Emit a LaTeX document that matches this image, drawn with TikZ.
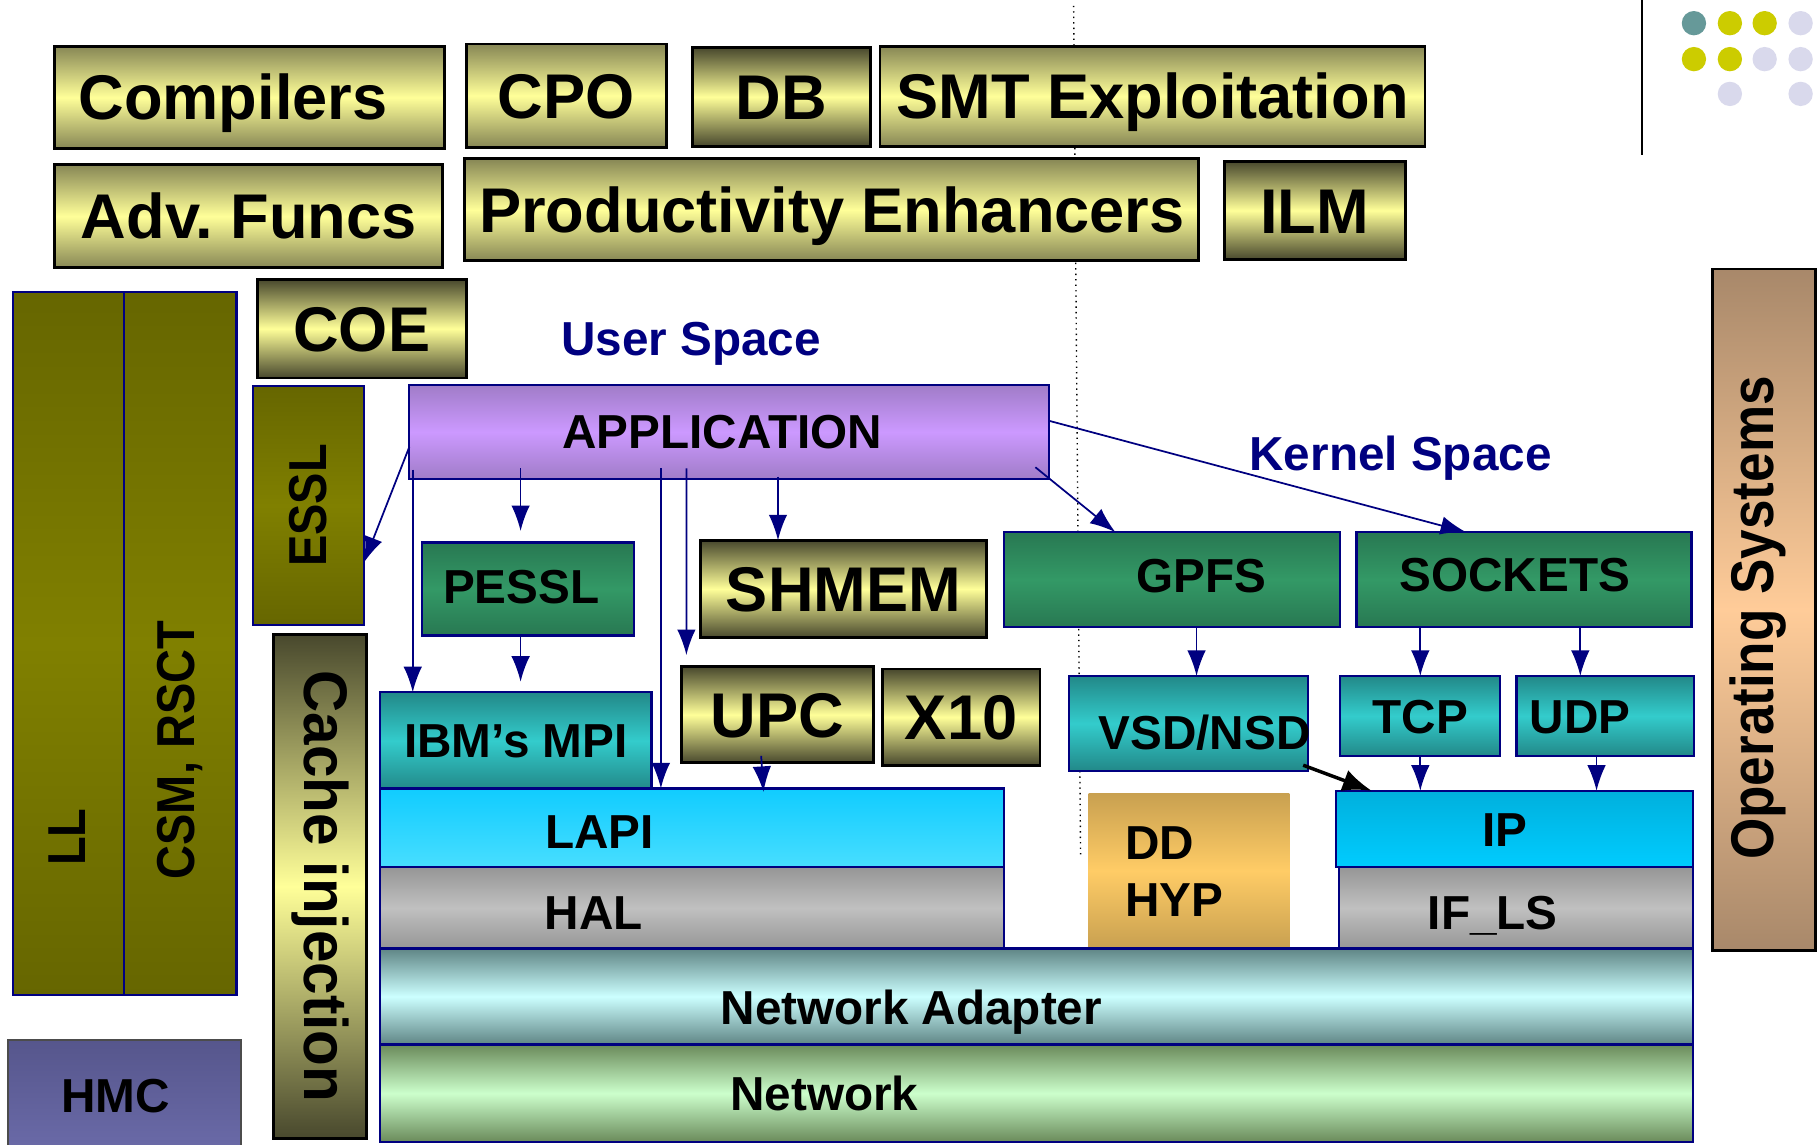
\documentclass[tikz,border=0pt]{standalone}
\usepackage{fontspec}
\setmainfont{Liberation Sans}
\usepackage{graphicx}
\usetikzlibrary{arrows.meta}

\definecolor{navy}{RGB}{0,0,128}
\definecolor{khakiL}{RGB}{255,255,153}
\definecolor{khakiM}{RGB}{135,135,85}
\definecolor{khakiD}{RGB}{72,72,45}
\definecolor{oliveD}{RGB}{102,102,0}
\definecolor{oliveM}{RGB}{128,128,0}
\definecolor{greenD}{RGB}{40,120,82}
\definecolor{greenM}{RGB}{51,153,102}
\definecolor{tealD}{RGB}{34,136,136}
\definecolor{tealM}{RGB}{51,204,204}
\definecolor{appD}{RGB}{160,124,200}
\definecolor{appM}{RGB}{204,153,255}
\definecolor{lapiT}{RGB}{16,204,255}
\definecolor{lapiB}{RGB}{72,222,255}
\definecolor{ipT}{RGB}{0,176,221}
\definecolor{ipB}{RGB}{0,204,255}
\definecolor{halD}{RGB}{150,150,150}
\definecolor{halM}{RGB}{192,192,192}
\definecolor{ddD}{RGB}{200,160,80}
\definecolor{ddM}{RGB}{255,204,102}
\definecolor{nadD}{RGB}{95,133,133}
\definecolor{nadM}{RGB}{204,255,255}
\definecolor{netD}{RGB}{106,138,90}
\definecolor{netM}{RGB}{204,255,204}
\definecolor{hmcT}{RGB}{86,86,140}
\definecolor{hmcB}{RGB}{106,106,168}
\definecolor{osD}{RGB}{168,136,106}
\definecolor{osM}{RGB}{255,204,153}
\definecolor{dotteal}{RGB}{102,153,153}
\definecolor{dotyel}{RGB}{204,204,0}
\definecolor{dotlav}{RGB}{217,217,236}

\newcommand\bigtxt{\fontsize{15.5}{18}\selectfont\bfseries}
\newcommand\midtxt{\fontsize{11.7}{14}\selectfont\bfseries}
\newcommand\sidetxt{\fontsize{13.1}{15}\selectfont\bfseries}
\newcommand\cachetxt{\fontsize{15.1}{17}\selectfont\bfseries}
\newcommand\ostxt{\fontsize{14.8}{17}\selectfont\bfseries}
\newcommand\vtxt[3]{\rotatebox{#1}{\scalebox{#2}[1]{#3}}}

\begin{document}
\begin{tikzpicture}[x=0.1mm, y=-0.1mm,
    box/.style = {inner sep=0pt, outer sep=0pt, font=\midtxt, text height=8.4pt, text depth=0pt},
    rot/.style = {text height={}, text depth={}},
    khaki/.style = {box, draw=black, line width=0.25mm, top color=khakiM, bottom color=khakiM, middle color=khakiL, font=\bigtxt, text height=11.1pt},
    khakidark/.style = {khaki, top color=khakiD, bottom color=khakiD, middle color=khakiL},
    olivebox/.style = {box, draw=navy, line width=0.2mm, top color=oliveD, bottom color=oliveD, middle color=oliveM},
    greenbox/.style = {box, draw=navy, line width=0.2mm, top color=greenD, bottom color=greenD, middle color=greenM},
    tealbox/.style = {box, draw=navy, line width=0.2mm, top color=tealD, bottom color=tealD, middle color=tealM},
    appbox/.style = {box, draw=navy, line width=0.2mm, top color=appD, bottom color=appD, middle color=appM},
    lapibox/.style = {box, draw=navy, line width=0.2mm, top color=lapiT, bottom color=lapiB},
    ipbox/.style = {box, draw=navy, line width=0.2mm, top color=ipT, bottom color=ipB},
    graybox/.style = {box, draw=navy, line width=0.2mm, top color=halD, bottom color=halD, middle color=halM},
    ddbox/.style = {box, top color=ddD, bottom color=ddD, middle color=ddM},
    nadbox/.style = {box, draw=navy, line width=0.2mm, top color=nadD, bottom color=nadD, middle color=nadM},
    netbox/.style = {box, draw=navy, line width=0.2mm, top color=netD, bottom color=netD, middle color=netM},
    hmcbox/.style = {box, draw=black!70, line width=0.2mm, top color=hmcT, bottom color=hmcB},
    osbox/.style = {box, draw=black, line width=0.25mm, top color=osD, bottom color=osD, middle color=osM},
    lbl/.style = {inner sep=0pt, font=\midtxt, text height=8.4pt, text depth=0pt},
    biglbl/.style = {lbl, font=\bigtxt, text height=11.1pt},
    vlbl/.style = {inner sep=0pt, font=\sidetxt},
    arr/.style = {-{Latex[length=2.2mm,width=1.6mm]}, draw=navy, line width=0.15mm}]

\useasboundingbox (0,0) rectangle (1568,987);

% page marks
\draw[densely dotted, line width=0.12mm] (926,5) -- (932,740);
\draw[line width=0.2mm] (1416,0) -- (1416,134);
\foreach \cx/\cy/\cc in {1461/-11/dotteal, 1492/-11/dotteal, 1522/-11/dotyel, 1553/-11/dotyel,
                         1461/20/dotteal, 1492/20/dotyel, 1522/20/dotyel, 1553/20/dotlav,
                         1461/51/dotyel, 1492/51/dotyel, 1522/51/dotlav, 1553/51/dotlav,
                         1492/81/dotlav, 1553/81/dotlav}
    \fill[\cc] (\cx,\cy) circle (1.05mm);

% tools
\node[khaki, minimum width=33.6mm, minimum height=8.8mm] (compilers) at (215,84) {};
\node[biglbl] (compilers-l) at ([xshift=-1.4mm]compilers.center) {Compilers};
\node[khaki, minimum width=17.3mm, minimum height=8.9mm] (cpo) at (488.5,82.5) {CPO};
\node[khakidark, minimum width=15.4mm, minimum height=8.5mm] (db) at (674,83.5) {DB};
\node[khaki, minimum width=47mm, minimum height=8.6mm] (smt) at (994,83) {SMT Exploitation};
\node[khaki, minimum width=33.5mm, minimum height=8.9mm] (adv) at (214.5,186.5) {Adv.\ Funcs};
\node[khaki, minimum width=63.3mm, minimum height=8.8mm] (prod) at (717.5,181) {Productivity Enhancers};
\node[khakidark, minimum width=15.6mm, minimum height=8.5mm] (ilm) at (1134,181.5) {ILM};
\node[khakidark, minimum width=18mm, minimum height=8.5mm] (coe) at (312,283.5) {COE};

% side columns
\node[olivebox, minimum width=9.6mm, minimum height=60.6mm] (ll) at (59,555) {};
\node[olivebox, minimum width=9.7mm, minimum height=60.6mm] (csm) at (155.5,555) {};
\node[vlbl] (ll-l) at (58,722) {\vtxt{90}{0.88}{LL}};
\node[vlbl] (csm-l) at (155,647) {\vtxt{90}{0.88}{CSM, RSCT}};
\node[olivebox, rot, minimum width=9.6mm, minimum height=20.6mm, font=\sidetxt] (essl) at (266,436) {\vtxt{90}{0.88}{ESSL}};
\node[khakidark, rot, minimum width=8mm, minimum height=43.5mm, font=\cachetxt] (cache) at (276,764.5) {\vtxt{-90}{0.95}{Cache injection}};
\node[hmcbox, minimum width=20.1mm, minimum height=9.5mm] (hmc) at (107.5,944.5) {};
\node[lbl] (hmc-l) at ([xshift=-0.8mm]hmc.center) {HMC};
\node[osbox, minimum width=8.9mm, minimum height=58.8mm] (os) at (1521.5,526) {};
\node[vlbl, font=\ostxt] (os-l) at (1516,533) {\vtxt{90}{0.88}{Operating Systems}};

\node[lbl, text=navy] (user) at (596,292) {User Space};
\node[lbl, text=navy] (kernel) at (1208,391) {Kernel Space};

% stack
\node[appbox, minimum width=55.2mm, minimum height=8.1mm] (app) at (629,372.5) {};
\node[lbl] (app-l) at ([xshift=-0.6mm]app.center) {APPLICATION};
\node[greenbox, minimum width=18.3mm, minimum height=8mm] (pessl) at (455.5,508) {};
\node[lbl] (pessl-l) at ([xshift=-0.6mm,yshift=0.2mm]pessl.center) {PESSL};
\node[khakidark, minimum width=24.7mm, minimum height=8.4mm] (shmem) at (727.5,508) {SHMEM};
\node[greenbox, minimum width=29mm, minimum height=8.2mm] (gpfs) at (1011,500) {};
\node[lbl] (gpfs-l) at ([xshift=2.5mm,yshift=0.4mm]gpfs.center) {GPFS};
\node[greenbox, minimum width=28.9mm, minimum height=8.2mm] (sockets) at (1314.5,500) {};
\node[lbl] (sockets-l) at ([xshift=-0.8mm,yshift=0.5mm]sockets.center) {SOCKETS};
\node[tealbox, minimum width=23.4mm, minimum height=8.4mm] (mpi) at (445,639) {IBM’s MPI};
\node[khakidark, minimum width=16.5mm, minimum height=8.3mm] (upc) at (670.5,616.5) {UPC};
\node[khakidark, minimum width=13.6mm, minimum height=8.3mm] (x10) at (829,618.5) {X10};
\node[tealbox, minimum width=20.6mm, minimum height=8.2mm] (vsd) at (1025,624) {};
\node[lbl] (vsd-l) at ([xshift=1.4mm,yshift=-0.8mm]vsd.center) {VSD/NSD};
\node[tealbox, minimum width=13.8mm, minimum height=6.9mm] (tcp) at (1225,617.5) {TCP};
\node[tealbox, minimum width=15.3mm, minimum height=6.9mm] (udp) at (1384.5,617.5) {};
\node[lbl] (udp-l) at ([xshift=-2.15mm]udp.center) {UDP};
\node[lapibox, minimum width=53.8mm, minimum height=6.8mm] (lapi) at (597,714) {};
\node[lbl] (lapi-l) at ([xshift=-8mm,yshift=-0.3mm]lapi.center) {LAPI};
\node[graybox, minimum width=53.8mm, minimum height=7mm] (hal) at (597,783) {};
\node[lbl] (hal-l) at ([xshift=-8.5mm,yshift=-0.4mm]hal.center) {HAL};
\node[ddbox, minimum width=17.3mm, minimum height=13.4mm] (dd) at (1025.5,751) {};
\node[lbl, rot, align=left, anchor=west] (dd-l) at (970,752) {DD\\HYP};
\node[ipbox, minimum width=30.8mm, minimum height=6.6mm] (ip) at (1306,715) {};
\node[lbl] (ip-l) at ([xshift=-0.8mm]ip.center) {IP};
\node[graybox, minimum width=30.5mm, minimum height=7mm] (ifls) at (1307.5,783) {};
\node[lbl] (ifls-l) at ([xshift=-2mm,yshift=-0.4mm]ifls.center) {IF\_LS};
\node[nadbox, minimum width=113.2mm, minimum height=8.3mm] (nad) at (894,859.5) {};
\node[lbl] (nad-l) at ([xshift=-10.8mm,yshift=-0.95mm]nad.center) {Network Adapter};
\node[netbox, minimum width=113.2mm, minimum height=8.4mm] (net) at (894,943) {};
\node[lbl] (net-l) at ([xshift=-18.3mm]net.center) {Network};

% calls
\draw[arr] ([yshift=-1.3mm]app.west) -- ([yshift=-4.9mm]essl.east);
\draw[arr] ([xshift=0.3mm,yshift=0.8mm]app.south west) -- ([xshift=0.3mm]app.south west |- mpi.north);
\draw[arr, shorten >=1mm] ([xshift=-0.65mm,yshift=0.9mm]app.south -| pessl.north) -- ([xshift=-0.65mm]pessl.north);
\draw[arr, shorten >=0.9mm] ([xshift=-0.65mm]pessl.south) -- ([xshift=-0.65mm]pessl.south |- mpi.north);
\draw[arr] ([xshift=21.7mm,yshift=0.9mm]app.south west) -- ([xshift=21.7mm]app.south west |- lapi.north);
\draw[arr, shorten >=1mm] ([xshift=23.9mm,yshift=0.9mm]app.south west) -- ([xshift=0.4mm]upc.north west);
\draw[arr] ([xshift=-5.65mm,yshift=0.2mm]app.south -| shmem.north) -- ([xshift=-5.65mm]shmem.north);
\draw[arr] ([xshift=-1.2mm,yshift=1mm]app.south east) -- ([xshift=9.6mm]gpfs.north west);
\draw[arr] ([yshift=0.95mm]app.east) -- ([xshift=-5mm]sockets.north);
\draw[arr] ([xshift=2.1mm]gpfs.south) -- ([xshift=2.1mm]gpfs.south |- vsd.north);
\draw[arr] (tcp.north |- sockets.south) -- (tcp.north);
\draw[arr] ([xshift=-2.15mm]udp.north |- sockets.south) -- ([xshift=-2.15mm]udp.north);
\draw[arr] ([xshift=-1.4mm,yshift=0.6mm]upc.south) -- ([xshift=-1.2mm,yshift=-0.3mm]upc.south |- lapi.north);
\draw[arr, draw=black, line width=0.3mm, -{Latex[length=2.5mm,width=1.9mm]}] ([xshift=-0.4mm,yshift=0.5mm]vsd.south east) -- ([xshift=3.1mm]ip.north west);
\draw[arr] (tcp.south) -- (tcp.south |- ip.north);
\draw[arr] ([xshift=-0.75mm]udp.south) -- ([xshift=-0.75mm]udp.south |- ip.north);
\end{tikzpicture}
\end{document}
